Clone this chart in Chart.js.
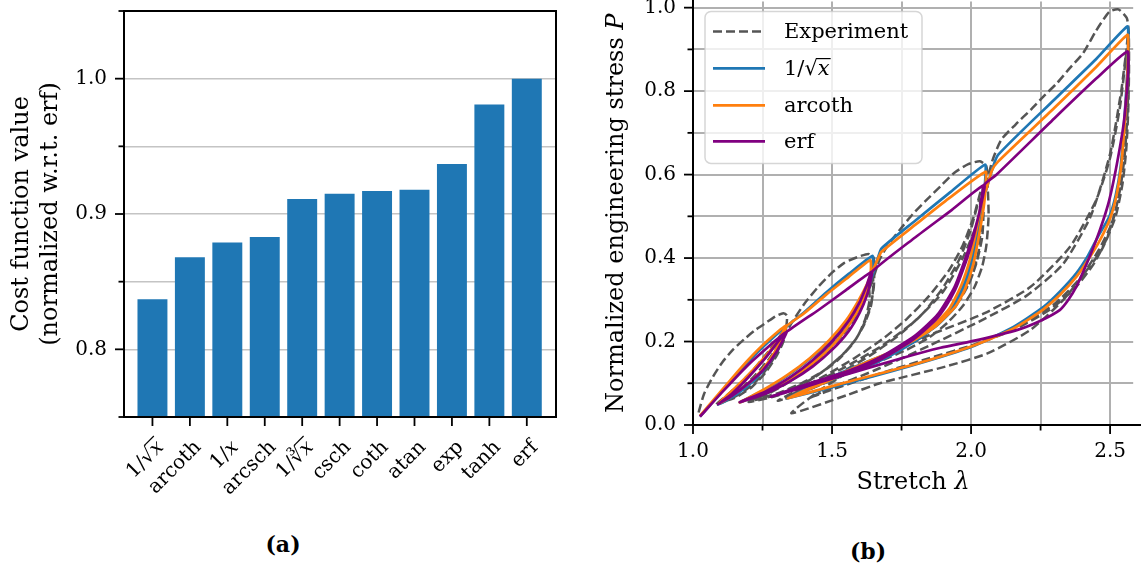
<!DOCTYPE html>
<html lang="en">
<head>
    <meta charset="UTF-8"/>
    <title>Cost function comparison and stress-stretch fits</title>
    <script src="https://cdn.jsdelivr.net/npm/chart.js@4.4.0/dist/chart.umd.min.js"></script>
    <style>
        html, body {
            margin: 0;
            background: #fff;
        }

        body {
            width: 1141px;
            height: 570px;
            position: relative;
            overflow: hidden;
            font-family: 'DejaVu Serif', serif;
        }

        .panel {
            position: absolute;
        }

        #barBox {
            left: 0;
            top: -34px;
        }

        #lineBox {
            left: 600px;
            top: -44px;
        }

        .caption {
            position: absolute;
            font-weight: bold;
            font-size: 22px;
            transform: translateX(-50%);
        }
    </style>
</head>
<body>
<div class="panel" id="barBox"><canvas height="544" id="barChart" width="570"></canvas></div>
<div class="panel" id="lineBox"><canvas height="564" id="lineChart" width="541"></canvas></div>
<div class="caption" style="left:283px; top:531px;">(a)</div>
<div class="caption" style="left:868px; top:538px;">(b)</div>

<script>
    // (a) normalized cost per activation function
    const barLabels = ['1/√x', 'arcoth', '1/x', 'arcsch', '1/∛x', 'csch', 'coth', 'atan', 'exp', 'tanh', 'erf'];
    const barValues = [0.837, 0.868, 0.879, 0.883, 0.911, 0.915, 0.917, 0.918, 0.937, 0.981, 1.0];

    // (b) cyclic loading: experiment and three fitted models
    const expLambda = [
        1.02, 1.04, 1.072, 1.105, 1.143, 1.185, 1.225, 1.265, 1.296, 1.325, 1.338,
        1.335, 1.32, 1.295, 1.26, 1.22, 1.17, 1.12, 1.085,
        1.12, 1.17, 1.22, 1.27, 1.31, 1.335,
        1.325, 1.3, 1.26, 1.21, 1.15, 1.1,
        1.15, 1.21, 1.27, 1.32, 1.36, 1.4, 1.449, 1.5, 1.543, 1.59, 1.631, 1.65,
        1.652, 1.65, 1.64, 1.62, 1.59, 1.54, 1.47, 1.39, 1.3, 1.2,
        1.28, 1.37, 1.45, 1.52, 1.58, 1.62, 1.645,
        1.648, 1.64, 1.615, 1.575, 1.52, 1.45, 1.37, 1.28, 1.2,
        1.27, 1.35, 1.43, 1.5, 1.56, 1.6, 1.63,
        1.635, 1.62, 1.59, 1.54, 1.47, 1.39, 1.3, 1.22,
        1.3, 1.4, 1.49, 1.56, 1.61, 1.645, 1.67, 1.7, 1.744, 1.79, 1.841, 1.89, 1.939, 1.99, 2.032, 2.055,
        2.06, 2.063, 2.055, 2.04, 2.012, 1.97, 1.915, 1.85, 1.768, 1.68, 1.585, 1.49, 1.4, 1.305,
        1.38, 1.48, 1.58, 1.68, 1.77, 1.85, 1.92, 1.97, 2.01, 2.04,
        2.045, 2.04, 2.02, 1.99, 1.94, 1.87, 1.79, 1.7, 1.6, 1.5, 1.4, 1.33,
        1.42, 1.53, 1.64, 1.74, 1.83, 1.9, 1.96, 2.0, 2.03,
        2.035, 2.028, 2.005, 1.965, 1.9, 1.82, 1.72, 1.61, 1.5, 1.4, 1.34,
        1.42, 1.55, 1.68, 1.8, 1.9, 1.97, 2.02, 2.05, 2.075, 2.108, 2.16, 2.214, 2.26, 2.309, 2.355, 2.403, 2.45, 2.497, 2.53, 2.56, 2.567,
        2.568, 2.565, 2.558, 2.545, 2.52, 2.47, 2.415, 2.332, 2.214, 2.061, 1.908, 1.672, 1.555, 1.354,
        1.45, 1.555, 1.7, 1.849, 2.049, 2.214, 2.356, 2.45, 2.5, 2.535, 2.555, 2.565,
        2.567, 2.562, 2.55, 2.525, 2.49, 2.44, 2.37, 2.28, 2.16, 2.0, 1.83, 1.66, 1.5, 1.42,
        1.5, 1.65, 1.85, 2.05, 2.2, 2.33, 2.43, 2.5, 2.54, 2.56,
        2.562, 2.555, 2.54, 2.51, 2.46, 2.39, 2.3, 2.18, 2.02, 1.85, 1.68, 1.52, 1.45
    ];
    const expStress = [
        0.03, 0.075, 0.116, 0.15, 0.18, 0.206, 0.228, 0.246, 0.26, 0.268, 0.262,
        0.235, 0.2, 0.165, 0.13, 0.1, 0.075, 0.058, 0.05,
        0.07, 0.1, 0.135, 0.175, 0.21, 0.235,
        0.2, 0.165, 0.125, 0.09, 0.065, 0.055,
        0.075, 0.11, 0.155, 0.205, 0.25, 0.29, 0.33, 0.365, 0.388, 0.402, 0.41, 0.4,
        0.37, 0.33, 0.29, 0.25, 0.21, 0.17, 0.13, 0.095, 0.07, 0.055,
        0.08, 0.115, 0.16, 0.21, 0.265, 0.32, 0.37,
        0.33, 0.285, 0.24, 0.195, 0.155, 0.12, 0.09, 0.068, 0.058,
        0.075, 0.105, 0.145, 0.19, 0.24, 0.29, 0.34,
        0.3, 0.255, 0.21, 0.17, 0.13, 0.1, 0.075, 0.062,
        0.09, 0.13, 0.18, 0.235, 0.29, 0.345, 0.395, 0.43, 0.468, 0.505, 0.54, 0.572, 0.604, 0.625, 0.632, 0.62,
        0.57, 0.5, 0.43, 0.38, 0.33, 0.285, 0.245, 0.21, 0.18, 0.155, 0.13, 0.105, 0.08, 0.058,
        0.085, 0.12, 0.16, 0.205, 0.255, 0.31, 0.37, 0.43, 0.5, 0.57,
        0.52, 0.45, 0.39, 0.335, 0.285, 0.24, 0.2, 0.17, 0.14, 0.11, 0.08, 0.062,
        0.088, 0.125, 0.168, 0.215, 0.27, 0.33, 0.4, 0.47, 0.54,
        0.49, 0.42, 0.36, 0.305, 0.255, 0.21, 0.175, 0.145, 0.115, 0.085, 0.068,
        0.095, 0.14, 0.19, 0.25, 0.32, 0.4, 0.48, 0.56, 0.63, 0.683, 0.72, 0.755, 0.787, 0.819, 0.855, 0.891, 0.945, 0.99, 0.996, 0.975, 0.94,
        0.85, 0.75, 0.66, 0.58, 0.5, 0.42, 0.37, 0.3, 0.228, 0.172, 0.14, 0.1, 0.072, 0.028,
        0.08, 0.125, 0.17, 0.215, 0.268, 0.331, 0.427, 0.539, 0.64, 0.76, 0.87, 0.94,
        0.86, 0.74, 0.63, 0.53, 0.45, 0.385, 0.325, 0.275, 0.23, 0.19, 0.155, 0.12, 0.085, 0.065,
        0.09, 0.13, 0.19, 0.255, 0.31, 0.385, 0.5, 0.65, 0.8, 0.9,
        0.8, 0.68, 0.58, 0.49, 0.42, 0.35, 0.29, 0.24, 0.195, 0.16, 0.125, 0.09, 0.075
    ];

    const sqrtLambda = [
        1.025, 1.08, 1.14, 1.2, 1.26, 1.33,
        1.31, 1.27, 1.22, 1.16, 1.09,
        1.15, 1.21, 1.27, 1.31, 1.335,
        1.4, 1.48, 1.56, 1.645,
        1.648, 1.64, 1.62, 1.59, 1.55, 1.5, 1.43, 1.35, 1.27, 1.168,
        1.26, 1.34, 1.42, 1.49, 1.55, 1.6, 1.635, 1.652, 1.665, 1.678,
        1.8, 1.92, 2.05,
        2.052, 2.045, 2.026, 2.002, 1.97, 1.943, 1.873, 1.8, 1.731, 1.64, 1.555, 1.45, 1.341,
        1.45, 1.56, 1.66, 1.76, 1.85, 1.92, 1.97, 2.0, 2.025, 2.045, 2.055, 2.075, 2.097,
        2.3, 2.45, 2.562,
        2.565, 2.562, 2.556, 2.548, 2.538, 2.52, 2.497, 2.456, 2.42, 2.379, 2.32, 2.261, 2.2, 2.144, 2.0, 1.8, 1.555, 1.341
    ];
    const sqrtStress = [
        0.02, 0.062, 0.108, 0.152, 0.192, 0.232,
        0.19, 0.145, 0.107, 0.075, 0.048,
        0.085, 0.125, 0.17, 0.205, 0.235,
        0.27, 0.318, 0.362, 0.405,
        0.385, 0.35, 0.31, 0.27, 0.23, 0.19, 0.15, 0.112, 0.082, 0.054,
        0.085, 0.118, 0.158, 0.2, 0.245, 0.295, 0.34, 0.372, 0.4, 0.423,
        0.49, 0.555, 0.624,
        0.6, 0.54, 0.459, 0.379, 0.32, 0.283, 0.236, 0.205, 0.18, 0.155, 0.132, 0.1, 0.064,
        0.095, 0.125, 0.15, 0.185, 0.225, 0.27, 0.33, 0.39, 0.47, 0.55, 0.565, 0.61, 0.647,
        0.78, 0.877, 0.955,
        0.93, 0.85, 0.779, 0.7, 0.619, 0.55, 0.499, 0.451, 0.405, 0.364, 0.32, 0.283, 0.255, 0.232, 0.187, 0.145, 0.1, 0.064
    ];

    const arcothLambda = [
        1.025, 1.08, 1.14, 1.2, 1.26, 1.335,
        1.31, 1.27, 1.22, 1.16, 1.09,
        1.15, 1.21, 1.27, 1.31, 1.335,
        1.4, 1.48, 1.56, 1.637,
        1.64, 1.635, 1.615, 1.585, 1.545, 1.495, 1.43, 1.35, 1.27, 1.168,
        1.26, 1.34, 1.42, 1.49, 1.55, 1.595, 1.63, 1.65, 1.665, 1.678,
        1.8, 1.92, 2.052,
        2.053, 2.047, 2.03, 2.008, 1.978, 1.945, 1.875, 1.8, 1.73, 1.64, 1.555, 1.45, 1.341,
        1.45, 1.56, 1.66, 1.76, 1.85, 1.92, 1.965, 1.995, 2.02, 2.042, 2.055, 2.075, 2.097,
        2.3, 2.45, 2.562,
        2.565, 2.562, 2.557, 2.55, 2.54, 2.523, 2.5, 2.465, 2.425, 2.38, 2.32, 2.26, 2.2, 2.144, 2.0, 1.8, 1.555, 1.341
    ];
    const arcothStress = [
        0.022, 0.065, 0.112, 0.157, 0.197, 0.238,
        0.195, 0.15, 0.112, 0.08, 0.05,
        0.088, 0.128, 0.172, 0.207, 0.236,
        0.268, 0.313, 0.355, 0.395,
        0.375, 0.345, 0.305, 0.265, 0.225, 0.186, 0.148, 0.112, 0.083, 0.054,
        0.087, 0.12, 0.16, 0.203, 0.25, 0.298, 0.343, 0.375, 0.398, 0.415,
        0.48, 0.543, 0.607,
        0.585, 0.53, 0.46, 0.385, 0.325, 0.285, 0.238, 0.205, 0.18, 0.155, 0.13, 0.098, 0.064,
        0.095, 0.127, 0.153, 0.19, 0.23, 0.277, 0.335, 0.395, 0.47, 0.545, 0.565, 0.61, 0.631,
        0.76, 0.858, 0.935,
        0.91, 0.84, 0.77, 0.7, 0.62, 0.55, 0.495, 0.445, 0.4, 0.356, 0.312, 0.277, 0.25, 0.228, 0.188, 0.146, 0.103, 0.064
    ];

    const erfLambda = [
        1.025, 1.1, 1.2, 1.335,
        1.3, 1.25, 1.19, 1.14, 1.09,
        1.14, 1.2, 1.26, 1.3, 1.335,
        1.45, 1.55, 1.643,
        1.64, 1.625, 1.6, 1.56, 1.5, 1.43, 1.35, 1.26, 1.168,
        1.26, 1.35, 1.43, 1.5, 1.56, 1.6, 1.625, 1.643,
        1.8, 1.93, 2.047,
        2.04, 2.026, 2.01, 1.991, 1.97, 1.943, 1.91, 1.873, 1.79, 1.672, 1.555, 1.42, 1.28,
        1.42, 1.56, 1.68, 1.8, 1.88, 1.94, 1.98, 2.01, 2.03, 2.047,
        2.09, 2.3, 2.45, 2.562,
        2.565, 2.56, 2.552, 2.544, 2.52, 2.497, 2.475, 2.45, 2.415, 2.379, 2.35, 2.32, 2.25, 2.167, 2.026, 1.89, 1.75, 1.524, 1.28
    ];
    const erfStress = [
        0.02, 0.075, 0.145, 0.222,
        0.175, 0.13, 0.095, 0.07, 0.05,
        0.075, 0.115, 0.16, 0.195, 0.222,
        0.275, 0.323, 0.367,
        0.35, 0.31, 0.27, 0.225, 0.18, 0.14, 0.105, 0.075, 0.055,
        0.08, 0.115, 0.155, 0.2, 0.25, 0.295, 0.335, 0.367,
        0.45, 0.515, 0.575,
        0.54, 0.499, 0.455, 0.411, 0.37, 0.324, 0.285, 0.252, 0.204, 0.156, 0.124, 0.095, 0.068,
        0.1, 0.13, 0.165, 0.215, 0.265, 0.33, 0.4, 0.46, 0.51, 0.575,
        0.599, 0.735, 0.83, 0.895,
        0.86, 0.8, 0.74, 0.7, 0.61, 0.539, 0.49, 0.443, 0.385, 0.332, 0.3, 0.276, 0.25, 0.228, 0.204, 0.185, 0.16, 0.116, 0.068
    ];

    const FONT = "'DejaVu Serif', serif";
    const fontStr = (size, italic) => (italic ? 'italic ' : '') + size + 'px ' + FONT;
    const toPoints = (xs, ys) => xs.map((v, i) => ({x: v, y: ys[i]}));
    const isStep = (v, step) => Math.abs(v / step - Math.round(v / step)) < 1e-6;

    // split "1/√x" style names into [text, italic, overline] runs
    function labelParts(s) {
        if (!s.startsWith('1/')) return [[s, false, false]];
        if (s === '1/x') return [['1/', false, false], ['x', true, false]];
        return [[s.slice(0, -1), false, false], ['x', true, true]];
    }

    function drawRich(ctx, parts, x, y, size, align) {
        const widths = parts.map(p => {
            ctx.font = fontStr(size, p[1]);
            return ctx.measureText(p[0]).width;
        });
        const total = widths.reduce((a, b) => a + b, 0);
        let cx = align === 'right' ? x - total : align === 'center' ? x - total / 2 : x;
        ctx.textAlign = 'left';
        parts.forEach((p, i) => {
            ctx.font = fontStr(size, p[1]);
            ctx.fillText(p[0], cx, y);
            if (p[2]) {
                const oy = y - size * 0.8;
                ctx.save();
                ctx.lineWidth = 1.2;
                ctx.beginPath();
                ctx.moveTo(cx - 1, oy);
                ctx.lineTo(cx + widths[i] + 1, oy);
                ctx.stroke();
                ctx.restore();
            }
            cx += widths[i];
        });
    }

    function tick(ctx, x1, y1, x2, y2) {
        ctx.beginPath();
        ctx.moveTo(x1, y1);
        ctx.lineTo(x2, y2);
        ctx.stroke();
    }

    const barDecor = {
        id: 'barDecor',
        afterDraw(chart) {
            const {ctx, chartArea: a, scales: {x, y}} = chart;
            ctx.save();
            ctx.strokeStyle = '#000';
            ctx.fillStyle = '#000';
            ctx.lineWidth = 1.8;
            y.ticks.forEach(t => {
                const py = y.getPixelForValue(t.value);
                tick(ctx, a.left - (t.label ? 9 : 5.5), py, a.left, py);
            });
            ctx.textBaseline = 'alphabetic';
            barLabels.forEach((name, i) => {
                const px = x.getPixelForValue(i);
                tick(ctx, px, a.bottom, px, a.bottom + 9);
                ctx.save();
                ctx.translate(px + 12, a.bottom + 31);
                ctx.rotate(-Math.PI / 4);
                drawRich(ctx, labelParts(name), 0, 0, 20, 'right');
                ctx.restore();
            });
            ctx.lineWidth = 2;
            ctx.strokeRect(a.left, a.top, a.right - a.left, a.bottom - a.top);

            // two-line y title
            ctx.textBaseline = 'middle';
            ctx.save();
            ctx.translate(22, (a.top + a.bottom) / 2);
            ctx.rotate(-Math.PI / 2);
            drawRich(ctx, [['Cost function value', false, false]], 0, 0, 24, 'center');
            drawRich(ctx, [['(normalized w.r.t. erf)', false, false]], 0, 29, 24, 'center');
            ctx.restore();
            ctx.restore();
        }
    };

    const lineDecor = {
        id: 'lineDecor',
        afterDraw(chart) {
            const {ctx, chartArea: a, scales: {x, y}} = chart;
            ctx.save();
            ctx.strokeStyle = '#000';
            ctx.fillStyle = '#000';
            ctx.lineWidth = 1.8;
            x.ticks.forEach(t => {
                const px = x.getPixelForValue(t.value);
                tick(ctx, px, a.bottom, px, a.bottom + (t.label ? 9 : 5.5));
            });
            y.ticks.forEach(t => {
                const py = y.getPixelForValue(t.value);
                tick(ctx, a.left - (t.label ? 9 : 5.5), py, a.left, py);
            });
            ctx.lineWidth = 2;
            ctx.beginPath();
            ctx.moveTo(a.left, 0);
            ctx.lineTo(a.left, a.bottom);
            ctx.lineTo(chart.width, a.bottom);
            ctx.stroke();

            // axis titles
            ctx.textBaseline = 'middle';
            drawRich(ctx, [['Stretch ', false, false], ['λ', true, false]], (a.left + a.right) / 2, a.bottom + 58, 24, 'center');
            ctx.save();
            ctx.translate(17, (a.top + a.bottom) / 2);
            ctx.rotate(-Math.PI / 2);
            drawRich(ctx, [['Normalized engineering stress ', false, false], ['P', true, false]], 0, 0, 24, 'center');
            ctx.restore();

            // legend box
            const bx = a.left + 12, by = a.top + 10;
            ctx.beginPath();
            ctx.roundRect(bx, by, 217, 152, 6);
            ctx.fillStyle = 'rgba(255,255,255,0.8)';
            ctx.fill();
            ctx.strokeStyle = 'rgba(204,204,204,0.8)';
            ctx.lineWidth = 1.5;
            ctx.stroke();
            const rows = [20, 57, 94, 130];
            ctx.textBaseline = 'alphabetic';
            chart.data.datasets.forEach((ds, i) => {
                const ry = by + rows[i];
                ctx.save();
                ctx.strokeStyle = ds.borderColor;
                ctx.lineWidth = ds.borderWidth;
                ctx.setLineDash(ds.borderDash || []);
                tick(ctx, bx + 8, ry, bx + 60, ry);
                ctx.restore();
                ctx.fillStyle = '#000';
                ctx.strokeStyle = '#000';
                drawRich(ctx, labelParts(ds.label), bx + 79, ry + 7, 21, 'left');
            });
            ctx.restore();
        }
    };

    new Chart(document.getElementById('barChart'), {
        type: 'bar',
        data: {
            datasets: [{
                data: barValues.map((v, i) => ({x: i, y: v})),
                backgroundColor: '#1f77b4',
                barPercentage: 0.8,
                categoryPercentage: 1.0
            }]
        },
        options: {
            responsive: false,
            animation: false,
            layout: {padding: {top: 45, right: 14, left: 0, bottom: 0}},
            plugins: {legend: {display: false}, tooltip: {enabled: false}},
            scales: {
                x: {
                    type: 'linear',
                    min: -0.76,
                    max: 10.78,
                    offset: false,
                    afterFit: s => { s.height = 93; },
                    ticks: {display: false, stepSize: 1},
                    grid: {display: false},
                    border: {display: false}
                },
                y: {
                    min: 0.75,
                    max: 1.05,
                    afterFit: s => { s.width = 124; },
                    ticks: {
                        stepSize: 0.05,
                        padding: 17,
                        color: '#000',
                        font: {family: FONT, size: 20},
                        callback: v => isStep(v, 0.1) ? v.toFixed(1) : ''
                    },
                    grid: {color: '#c4c4c4', lineWidth: 1.6, drawTicks: false},
                    border: {display: false}
                }
            }
        },
        plugins: [barDecor]
    });

    new Chart(document.getElementById('lineChart'), {
        type: 'scatter',
        data: {
            datasets: [{
                label: 'Experiment',
                data: toPoints(expLambda, expStress),
                borderColor: '#555555',
                borderWidth: 2.5,
                borderDash: [9, 4],
                order: 4
            }, {
                label: '1/√x',
                data: toPoints(sqrtLambda, sqrtStress),
                borderColor: '#1f77b4',
                borderWidth: 2.7,
                order: 3
            }, {
                label: 'arcoth',
                data: toPoints(arcothLambda, arcothStress),
                borderColor: '#ff7f0e',
                borderWidth: 2.7,
                order: 2
            }, {
                label: 'erf',
                data: toPoints(erfLambda, erfStress),
                borderColor: '#800080',
                borderWidth: 2.7,
                order: 1
            }]
        },
        options: {
            responsive: false,
            animation: false,
            layout: {padding: {top: 45.4, right: 0, left: 0, bottom: 0}},
            datasets: {scatter: {showLine: true, pointRadius: 0, tension: 0.2, fill: false}},
            plugins: {legend: {display: false}, tooltip: {enabled: false}},
            scales: {
                x: {
                    type: 'linear',
                    min: 1.0,
                    max: 2.583,
                    afterFit: s => { s.height = 95; },
                    ticks: {
                        stepSize: 0.25,
                        includeBounds: false,
                        maxRotation: 0,
                        padding: 15,
                        color: '#000',
                        font: {family: FONT, size: 20},
                        callback: v => isStep(v, 0.5) ? v.toFixed(1) : ''
                    },
                    grid: {color: '#b0b0b0', lineWidth: 2, drawTicks: false},
                    border: {display: false}
                },
                y: {
                    min: 0,
                    max: 1.015,
                    afterFit: s => { s.width = 93; },
                    ticks: {
                        stepSize: 0.1,
                        includeBounds: false,
                        padding: 17,
                        color: '#000',
                        font: {family: FONT, size: 20},
                        callback: v => isStep(v, 0.2) ? v.toFixed(1) : ''
                    },
                    grid: {color: '#b0b0b0', lineWidth: 2, drawTicks: false},
                    border: {display: false}
                }
            }
        },
        plugins: [lineDecor]
    });
</script>
</body>
</html>
